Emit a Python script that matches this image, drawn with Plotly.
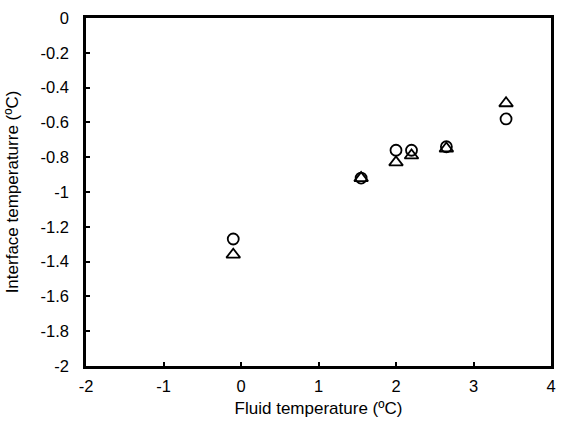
import plotly.graph_objects as go

fluid_temp = [-0.1, 1.55, 2.0, 2.2, 2.65, 3.42]
interface_circle = [-1.27, -0.92, -0.76, -0.76, -0.74, -0.58]
interface_triangle = [-1.36, -0.92, -0.83, -0.79, -0.75, -0.49]

x_ticks = [-2, -1, 0, 1, 2, 3, 4]
y_ticks = [0, -0.2, -0.4, -0.6, -0.8, -1, -1.2, -1.4, -1.6, -1.8, -2]

fig = go.Figure()
fig.add_trace(go.Scatter(
    x=fluid_temp, y=interface_circle, mode="markers", name="circle",
    marker=dict(symbol="circle-open", size=11, color="black", line=dict(width=1.8, color="black")),
))
fig.add_trace(go.Scatter(
    x=fluid_temp, y=interface_triangle, mode="markers", name="triangle",
    marker=dict(symbol="triangle-up-open", size=12, color="black", line=dict(width=1.8, color="black")),
))

axis_common = dict(
    showgrid=False, zeroline=False, showline=True, linecolor="black", linewidth=2.5,
    mirror=True, ticks="inside", ticklen=4, tickwidth=2, tickcolor="black",
    tickfont=dict(family="Liberation Sans, Arial, sans-serif", size=16.5, color="black"),
)

fig.update_layout(
    width=565, height=428,
    margin=dict(l=86, r=9, t=13, b=62),
    paper_bgcolor="white", plot_bgcolor="white",
    showlegend=False,
    font=dict(family="Liberation Sans, Arial, sans-serif", color="black"),
    xaxis=dict(
        range=[-2, 4], tickvals=x_ticks, ticktext=[str(v) for v in x_ticks],
        title=dict(text="Fluid temperature (ºC)", font=dict(size=17), standoff=9),
        ticklabelstandoff=3,
        **axis_common,
    ),
    yaxis=dict(
        range=[-2, 0], tickvals=y_ticks, ticktext=[("%g" % v) for v in y_ticks],
        title=dict(text="Interface temperaturre (ºC)", font=dict(size=17), standoff=18),
        ticklabelstandoff=11,
        **axis_common,
    ),
)

fig.write_html("out.html")
